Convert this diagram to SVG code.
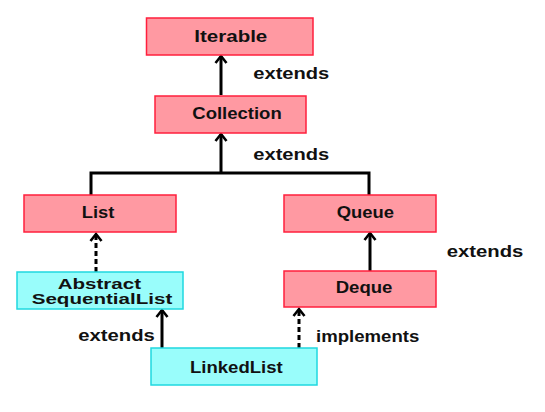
<svg xmlns="http://www.w3.org/2000/svg" width="545" height="412" viewBox="0 0 545 412">
  <style>
    .iface rect { fill: #ff99a2; stroke: #ff1f3c; stroke-width: 1.5; }
    .cls rect { fill: #99fdfb; stroke: #1fd8e0; stroke-width: 1.5; }
    text { font-family: "Liberation Sans", Arial, sans-serif; font-weight: bold; font-size: 16px; fill: #111; }
    .two { font-size: 15px; }
    .edge { fill: none; stroke: #000; stroke-width: 3; }
    .dash { stroke-dasharray: 5 3; }
  </style>
  <defs>
    <marker id="head" markerUnits="userSpaceOnUse" markerWidth="16" markerHeight="16" refX="0" refY="0" viewBox="-8 -8 16 16" orient="auto">
      <path d="M-7,-5.5 L0,0 L-7,5.5" fill="none" stroke="#000" stroke-width="2.6"/>
    </marker>
  </defs>

  <g id="connectors">
    <path class="edge" d="M221,95 L221,56" marker-end="url(#head)"/>
    <path class="edge" d="M91,195 L91,173 L369,173 L369,195"/>
    <path class="edge" d="M221,173 L221,134" marker-end="url(#head)"/>
    <path class="edge" d="M370,271 L370,233" marker-end="url(#head)"/>
    <path class="edge dash" d="M96,272 L96,234" marker-end="url(#head)"/>
    <path class="edge" d="M162,348 L162,310" marker-end="url(#head)"/>
    <path class="edge dash" d="M299,348 L299,309" marker-end="url(#head)"/>
    <text x="253.3" y="79.3" textLength="76" lengthAdjust="spacingAndGlyphs">extends</text>
    <text x="253.3" y="160" textLength="76" lengthAdjust="spacingAndGlyphs">extends</text>
    <text x="446.7" y="257.3" textLength="76.6" lengthAdjust="spacingAndGlyphs">extends</text>
    <text x="78.3" y="340.7" textLength="76.6" lengthAdjust="spacingAndGlyphs">extends</text>
    <text x="316" y="342.3" textLength="103.3" lengthAdjust="spacingAndGlyphs">implements</text>
  </g>

  <g id="Iterable" class="iface">
    <rect x="146.5" y="18" width="166.5" height="37"/>
    <text x="194.3" y="41.7" textLength="73" lengthAdjust="spacingAndGlyphs">Iterable</text>
  </g>
  <g id="Collection" class="iface">
    <rect x="155" y="96" width="151" height="37"/>
    <text x="192.3" y="119.3" textLength="89.4" lengthAdjust="spacingAndGlyphs">Collection</text>
  </g>
  <g id="List" class="iface">
    <rect x="24" y="195" width="152" height="37"/>
    <text x="81.7" y="218.3" textLength="32.6" lengthAdjust="spacingAndGlyphs">List</text>
  </g>
  <g id="Queue" class="iface">
    <rect x="284" y="195" width="152" height="37"/>
    <text x="336.7" y="218.3" textLength="57.3" lengthAdjust="spacingAndGlyphs">Queue</text>
  </g>
  <g id="Deque" class="iface">
    <rect x="284" y="271" width="152" height="36"/>
    <text x="335.7" y="293.3" textLength="56.7" lengthAdjust="spacingAndGlyphs">Deque</text>
  </g>
  <g id="AbstractSequentialList" class="cls">
    <rect x="17" y="272" width="166" height="37"/>
    <text class="two" x="57.7" y="289.2" textLength="83.3" lengthAdjust="spacingAndGlyphs">Abstract</text>
    <text class="two" x="31.7" y="303.5" textLength="140.6" lengthAdjust="spacingAndGlyphs">SequentialList</text>
  </g>
  <g id="LinkedList" class="cls">
    <rect x="151" y="348" width="166" height="37"/>
    <text x="190" y="373.3" textLength="92.7" lengthAdjust="spacingAndGlyphs">LinkedList</text>
  </g>
</svg>
